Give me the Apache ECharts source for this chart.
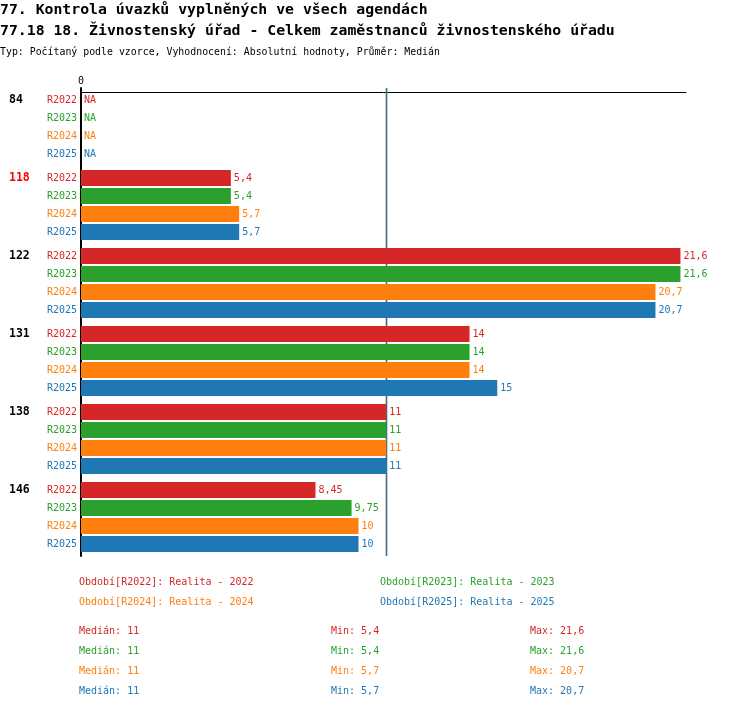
<!DOCTYPE html>
<html>
<head>
<meta charset="utf-8">
<script src="https://cdn.jsdelivr.net/npm/echarts@6/dist/echarts.min.js"></script>
<style>html,body{margin:0;padding:0;background:#fff;}#c{width:750px;height:710px;}</style>
</head>
<body>
<div id="c"></div>
<script>
const titleMain = '77. Kontrola úvazků vyplněných ve všech agendách';
const titleSub = '77.18 18. Živnostenský úřad - Celkem zaměstnanců živnostenského úřadu';
const titleInfo = 'Typ: Počítaný podle vzorce, Vyhodnocení: Absolutní hodnoty, Průměr: Medián';
const categories = ['84', '118', '122', '131', '138', '146'];
const highlighted = '118';
const periods = ['R2022', 'R2023', 'R2024', 'R2025'];
const periodNames = ['Realita - 2022', 'Realita - 2023', 'Realita - 2024', 'Realita - 2025'];
const r2022 = [null, 5.4, 21.6, 14, 11, 8.45];
const r2023 = [null, 5.4, 21.6, 14, 11, 9.75];
const r2024 = [null, 5.7, 20.7, 14, 11, 10];
const r2025 = [null, 5.7, 20.7, 15, 11, 10];
const values = [r2022, r2023, r2024, r2025];
const colors = ['#d62728', '#2ca02c', '#ff7f0e', '#1f77b4'];

const FONT = 'DejaVu Sans Mono';
const fmt = v => String(v).replace('.', ',');
function median(arr) {
  const a = arr.filter(v => v !== null).sort((x, y) => x - y);
  const n = a.length;
  return n % 2 ? a[(n - 1) / 2] : (a[n / 2 - 1] + a[n / 2]) / 2;
}
const stats = values.map(arr => {
  const a = arr.filter(v => v !== null);
  return { med: median(arr), min: Math.min(...a), max: Math.max(...a) };
});

const series = [];
periods.forEach((p, i) => {
  const vals = values[i];
  series.push({
    type: 'bar', name: p + '_name', stack: p, z: 10, silent: true,
    data: categories.map(() => 0),
    barWidth: 16, barGap: '12.5%',
    itemStyle: { color: colors[i] },
    label: { show: true, position: 'left', distance: 4, formatter: p,
      color: colors[i], fontSize: 10, fontFamily: FONT },
    markLine: {
      silent: true, symbol: 'none', animation: false, z: 1,
      label: { show: false },
      lineStyle: { color: colors[i], width: 1.2, type: 'solid', opacity: 1 },
      data: [{ xAxis: stats[i].med }]
    }
  });
  series.push({
    type: 'bar', name: p, stack: p, z: 10,
    data: vals.map(v => v === null ? 0 : v),
    barWidth: 16, barGap: '12.5%',
    itemStyle: { color: colors[i] },
    label: { show: true, position: 'right', distance: 3,
      formatter: prm => vals[prm.dataIndex] === null ? 'NA' : fmt(vals[prm.dataIndex]),
      color: colors[i], fontSize: 10, fontFamily: FONT }
  });
});

const titles = [
  { text: titleMain, left: 0, top: 2, padding: [1, 0, 0, 0], textStyle: { fontFamily: FONT, fontSize: 14.8, fontWeight: 'bold', color: '#000' } },
  { text: titleSub, left: 0, top: 23, padding: [1, 0, 0, 0], textStyle: { fontFamily: FONT, fontSize: 14.8, fontWeight: 'bold', color: '#000' } },
  { text: titleInfo, left: 0, top: 46, padding: [1, 0, 0, 0], textStyle: { fontFamily: FONT, fontSize: 9.9, fontWeight: 'normal', color: '#000' } }
];
const statCols = [79, 331, 530];
stats.forEach((s, i) => {
  const top = 626 + i * 20;
  const st = { fontFamily: FONT, fontSize: 10, fontWeight: 'normal', color: colors[i] };
  titles.push({ text: 'Medián: ' + fmt(s.med), left: statCols[0], top: top, padding: 0, textStyle: st });
  titles.push({ text: 'Min: ' + fmt(s.min), left: statCols[1], top: top, padding: 0, textStyle: st });
  titles.push({ text: 'Max: ' + fmt(s.max), left: statCols[2], top: top, padding: 0, textStyle: st });
});

function legendFor(idxs, left) {
  return {
    orient: 'vertical', left: left, top: 576, padding: 0,
    itemWidth: 0, itemHeight: 12, itemGap: 8, icon: 'rect', selectedMode: false,
    formatter: name => 'Období[' + name + ']: ' + periodNames[periods.indexOf(name)],
    textStyle: { fontFamily: FONT, fontSize: 10 },
    data: idxs.map(i => ({ name: periods[i], textStyle: { color: colors[i] } }))
  };
}

const chart = echarts.init(document.getElementById('c'));
chart.setOption({
  animation: false,
  backgroundColor: '#fff',
  title: titles,
  legend: [legendFor([0, 2], 74), legendFor([1, 3], 375)],
  grid: { left: 81, right: 64, top: 88, bottom: 154, containLabel: false },
  xAxis: {
    type: 'value', position: 'top', min: 0, max: 21.8, offset: -4,
    axisLine: { show: true, lineStyle: { color: '#000', width: 1 } },
    axisTick: { show: false }, splitLine: { show: false },
    axisLabel: { margin: 6, fontFamily: FONT, fontSize: 10, color: '#000',
      formatter: v => v === 0 ? '0' : '' }
  },
  yAxis: {
    type: 'category', inverse: true, data: categories,
    axisLine: { show: true, lineStyle: { color: '#000', width: 2 } },
    axisTick: { show: false },
    axisLabel: { align: 'left', margin: 72, fontFamily: FONT, fontSize: 11.5, fontWeight: 'bold',
      lineHeight: 13.5,
      formatter: v => v + '\n \n \n \n ',
      color: v => v === highlighted ? '#ff0000' : '#000' }
  },
  series: series
});
</script>
</body>
</html>
